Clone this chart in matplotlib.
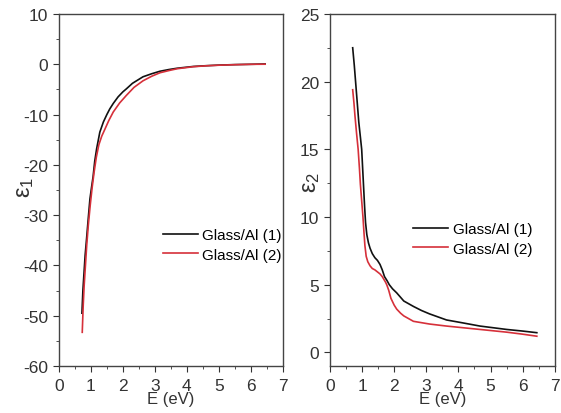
import matplotlib.pyplot as plt
from matplotlib.ticker import AutoMinorLocator

plt.rcParams['font.family'] = ['Liberation Sans', 'DejaVu Sans']
plt.rcParams['axes.unicode_minus'] = False
plt.rcParams['mathtext.default'] = 'regular'

# eps1 (real part)
e1_x_1 = [0.72, 0.75, 0.78, 0.82, 0.865, 0.92, 0.97, 1.02, 1.07, 1.12, 1.18, 1.28, 1.39, 1.5, 1.59, 1.7, 1.85, 2.0, 2.11, 2.3, 2.63, 2.9, 3.16, 3.45, 3.7, 4.2, 4.6, 5.0, 5.5, 6.0, 6.45]
e1_y_1 = [-49.5, -45, -42, -38, -34.7, -30.5, -26.8, -24.5, -22.3, -19.3, -16.8, -13.5, -11.5, -10.0, -8.9, -7.8, -6.5, -5.5, -4.9, -3.8, -2.5, -1.9, -1.4, -1.05, -0.8, -0.45, -0.3, -0.18, -0.08, -0.02, 0.05]
e1_x_2 = [0.73, 0.76, 0.79, 0.83, 0.87, 0.92, 0.98, 1.04, 1.1, 1.17, 1.25, 1.34, 1.44, 1.56, 1.7, 1.9, 2.11, 2.35, 2.63, 2.9, 3.16, 3.45, 3.7, 4.2, 4.6, 5.0, 5.5, 6.0, 6.45]
e1_y_2 = [-53.3, -48, -44, -40, -36, -32, -28, -24.5, -21.5, -18.5, -16.0, -14.3, -12.9, -11.2, -9.5, -7.7, -6.2, -4.6, -3.3, -2.4, -1.7, -1.25, -0.9, -0.5, -0.32, -0.2, -0.1, -0.02, 0.0]

# eps2 (imaginary part)
e2_x_1 = [0.71, 0.76, 0.8, 0.85, 0.9, 0.95, 0.99, 1.02, 1.05, 1.08, 1.11, 1.15, 1.2, 1.25, 1.32, 1.4, 1.48, 1.56, 1.63, 1.7, 1.78, 1.85, 1.95, 2.08, 2.3, 2.6, 2.85, 3.1, 3.63, 4.1, 4.67, 5.5, 6.0, 6.44]
e2_y_1 = [22.5, 21.2, 20.0, 18.5, 17.0, 15.9, 15.0, 13.6, 12.2, 10.8, 9.6, 8.7, 8.1, 7.7, 7.3, 7.0, 6.8, 6.5, 6.1, 5.6, 5.3, 5.0, 4.7, 4.4, 3.8, 3.4, 3.1, 2.85, 2.4, 2.2, 1.95, 1.7, 1.58, 1.46]
e2_x_2 = [0.71, 0.75, 0.78, 0.83, 0.88, 0.92, 0.95, 0.99, 1.03, 1.06, 1.09, 1.13, 1.18, 1.25, 1.32, 1.4, 1.48, 1.56, 1.63, 1.68, 1.73, 1.77, 1.83, 1.9, 2.0, 2.08, 2.2, 2.3, 2.45, 2.6, 3.1, 3.63, 4.67, 5.5, 6.0, 6.44]
e2_y_2 = [19.4, 18.4, 17.5, 16.2, 15.0, 13.6, 12.4, 11.2, 10.0, 8.9, 7.9, 7.1, 6.7, 6.4, 6.2, 6.1, 5.95, 5.8, 5.6, 5.4, 5.2, 5.0, 4.6, 4.0, 3.5, 3.2, 2.9, 2.7, 2.5, 2.3, 2.1, 1.95, 1.7, 1.5, 1.35, 1.2]

labels = ['Glass/Al (1)', 'Glass/Al (2)']
colors = ['#111111', '#d6303a']

fig = plt.figure(figsize=(5.61, 4.14), dpi=100)
ax1 = fig.add_axes([0.105, 0.1135, 0.399, 0.8505])
ax2 = fig.add_axes([0.588, 0.1135, 0.401, 0.8505])

ax1.plot(e1_x_1, e1_y_1, color=colors[0], lw=1.2, label=labels[0])
ax1.plot(e1_x_2, e1_y_2, color=colors[1], lw=1.2, label=labels[1])
ax2.plot(e2_x_1, e2_y_1, color=colors[0], lw=1.2, label=labels[0])
ax2.plot(e2_x_2, e2_y_2, color=colors[1], lw=1.2, label=labels[1])

ax1.set_xlim(0, 7)
ax1.set_ylim(-60, 10)
ax1.set_yticks(range(-60, 11, 10))
ax2.set_xlim(0, 7)
ax2.set_ylim(-1, 25)
ax2.set_yticks(range(0, 26, 5))

for ax in (ax1, ax2):
    ax.set_xticks(range(0, 8))
    ax.xaxis.set_minor_locator(AutoMinorLocator(2))
    ax.yaxis.set_minor_locator(AutoMinorLocator(2))
    ax.tick_params(which='both', direction='out', top=False, right=False,
                   labelsize=12.5, labelcolor='#333333', color='#333333')
    ax.tick_params(which='major', length=4.5, pad=3)
    ax.tick_params(which='minor', length=2.5)
    ax.tick_params(axis='x', which='major', pad=4)
    for s in ax.spines.values():
        s.set_color('#444444')
        s.set_linewidth(1.0)
    ax.set_xlabel('E (eV)', fontsize=12, color='#333333', labelpad=-1)

leg_pos = {ax1: (0.464, 0.344), ax2: (0.369, 0.361)}
for ax, pos in leg_pos.items():
    ax.legend(loc='center left', bbox_to_anchor=pos, frameon=False, fontsize=11,
              handlelength=2.3, handletextpad=0.3, borderpad=0, borderaxespad=0,
              labelspacing=0.35)

ax1.set_ylabel(r'$ε_1$', fontsize=17, color='#333333')
ax2.set_ylabel(r'$ε_2$', fontsize=17, color='#333333')
ax1.yaxis.set_label_coords(-0.104, 0.51)
ax2.yaxis.set_label_coords(-0.033, 0.523)

fig.savefig('out.png', dpi=100)
